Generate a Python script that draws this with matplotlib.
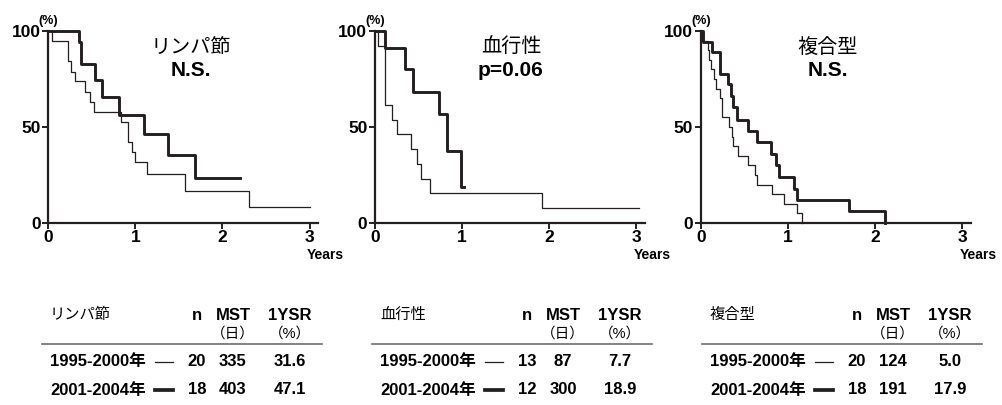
import matplotlib
matplotlib.use("Agg")
import matplotlib.pyplot as plt
from matplotlib.lines import Line2D
from matplotlib.transforms import blended_transform_factory

plt.rcParams["font.family"] = ["Liberation Sans", "Noto Sans CJK JP"]

# ---------------------------------------------------------
# Data
# ---------------------------------------------------------
groups = ["リンパ節", "血行性", "複合型"]
stat_labels = ["N.S.", "p=0.06", "N.S."]
periods = ["1995-2000年", "2001-2004年"]
n_cases = [[20, 18], [13, 12], [20, 18]]
mst_days = [[335, 403], [87, 300], [124, 191]]
ysr_1 = [["31.6", "47.1"], ["7.7", "18.9"], ["5.0", "17.9"]]
x_ticks = [0, 1, 2, 3]
y_ticks = [0, 50, 100]

# Kaplan-Meier steps (years, survival %); last point = end of follow-up
lymph_old_t = [0, 0.04, 0.23, 0.26, 0.31, 0.42, 0.48, 0.52, 0.84, 0.91, 0.96, 0.99, 1.13, 1.57, 2.30, 3.01]
lymph_old_s = [100, 95.0, 84.2, 78.9, 73.7, 68.4, 63.2, 57.9, 52.6, 42.1, 36.8, 31.6, 25.3, 16.9, 8.4, 8.4]
lymph_new_t = [0, 0.35, 0.38, 0.54, 0.62, 0.81, 1.10, 1.38, 1.69, 2.20]
lymph_new_s = [100, 94.4, 82.6, 74.3, 65.7, 56.5, 46.6, 35.3, 23.6, 23.6]

blood_old_t = [0, 0.04, 0.12, 0.20, 0.25, 0.41, 0.48, 0.53, 0.63, 1.92, 3.03]
blood_old_s = [100, 92.3, 61.5, 53.8, 46.2, 38.5, 30.8, 23.1, 15.4, 7.7, 7.7]
blood_new_t = [0, 0.115, 0.35, 0.44, 0.73, 0.83, 0.99, 1.02]
blood_new_s = [100, 91.0, 80.2, 68.2, 57.0, 37.7, 18.8, 18.8]

mixed_old_t = [0, 0.02, 0.08, 0.10, 0.12, 0.15, 0.18, 0.22, 0.24, 0.33, 0.36, 0.37, 0.43,
               0.54, 0.62, 0.65, 0.82, 0.96, 1.10, 1.16]
mixed_old_s = [100, 95, 90, 85, 80, 75, 70, 65, 55, 50, 45, 40, 35, 30, 25, 20, 15, 10, 5, 0]
mixed_new_t = [0, 0.03, 0.13, 0.22, 0.315, 0.35, 0.37, 0.42, 0.54, 0.65, 0.81, 0.87, 0.90,
               1.07, 1.10, 1.70, 2.12]
mixed_new_s = [100, 94.4, 88.9, 77.8, 72.2, 66.1, 60.6, 53.9, 47.9, 42.0, 35.9, 30.0, 24.0,
               17.9, 12.0, 6.0, 0]

curves = [
    ((lymph_old_t, lymph_old_s), (lymph_new_t, lymph_new_s)),
    ((blood_old_t, blood_old_s), (blood_new_t, blood_new_s)),
    ((mixed_old_t, mixed_old_s), (mixed_new_t, mixed_new_s)),
]

# ---------------------------------------------------------
# Layout (pixels of a 1003x405 canvas)
# ---------------------------------------------------------
W, H = 1003, 405
INK = "#231f20"
THIN, THICK = 0.9, 2.1
panel_left = [48.3, 375, 700.7]
panel_width = 270
panel_top, panel_bottom = 31, 223
title_x = [1.64, 1.56, 1.46]
table_x = [50, 380, 710]
col_n, col_mst, col_ysr = 147, 183, 240


def fx(px):
    return px / W


def fy(py):
    return 1 - py / H


fig = plt.figure(figsize=(W / 100, H / 100), dpi=100)

for i in range(3):
    ax = fig.add_axes([fx(panel_left[i]), fy(panel_bottom),
                       panel_width / W, (panel_bottom - panel_top) / H])
    (t_old, s_old), (t_new, s_new) = curves[i]
    ax.step(t_old, s_old, where="post", color=INK, lw=THIN, clip_on=False)
    ax.step(t_new, s_new, where="post", color=INK, lw=THICK, clip_on=False)

    ax.set_xlim(0, 3.1)
    ax.set_ylim(0, 100)
    ax.set_xticks(x_ticks)
    ax.set_yticks(y_ticks)
    for side in ["top", "right"]:
        ax.spines[side].set_visible(False)
    for side in ["left", "bottom"]:
        ax.spines[side].set_linewidth(1.6)
        ax.spines[side].set_color(INK)
    ax.tick_params(length=4, width=1.4, color=INK, labelsize=12.5, pad=1.5)
    ax.tick_params(axis="x", pad=1)
    for lab in ax.get_xticklabels() + ax.get_yticklabels():
        lab.set_fontweight("bold")

    ax.annotate("(%)", xy=(0, 1), xycoords="axes fraction", xytext=(0, 3),
                textcoords="offset points", ha="center", va="bottom",
                fontsize=9, fontweight="bold")
    trans = blended_transform_factory(ax.transData, ax.transAxes)
    ax.text(2.97, -0.165, "Years", transform=trans, ha="left", va="center",
            fontsize=10, fontweight="bold")

    ax.text(title_x[i], 91.5, groups[i], ha="center", va="center", fontsize=14.5)
    ax.text(title_x[i], 79.5, stat_labels[i], ha="center", va="center",
            fontsize=15, fontweight="bold")

    # summary table under each panel
    x0 = table_x[i]
    fig.text(fx(x0), fy(315), groups[i], ha="left", va="center", fontsize=11)
    for off, lab in [(col_n, "n"), (col_mst, "MST"), (col_ysr, "1YSR")]:
        fig.text(fx(x0 + off), fy(316), lab, ha="center", va="center",
                 fontsize=12, fontweight="bold")
    fig.text(fx(x0 + col_mst), fy(334), "（日）", ha="center", va="center", fontsize=10.5)
    fig.text(fx(x0 + col_ysr), fy(334), "（%）", ha="center", va="center", fontsize=10.5)
    fig.add_artist(Line2D([fx(x0 - 8), fx(x0 + 272)], [fy(344.3), fy(344.3)],
                          color="#6d6d6d", lw=1.2))

    for r, row_y in enumerate([361.5, 390]):
        fig.text(fx(x0), fy(row_y), periods[r], ha="left", va="center",
                 fontsize=12, fontweight="bold")
        fig.add_artist(Line2D([fx(x0 + 105), fx(x0 + 123)], [fy(row_y), fy(row_y)],
                              color=INK, lw=THIN if r == 0 else THICK + 0.6))
        fig.text(fx(x0 + col_n), fy(row_y), str(n_cases[i][r]), ha="center",
                 va="center", fontsize=12, fontweight="bold")
        fig.text(fx(x0 + col_mst), fy(row_y), str(mst_days[i][r]), ha="center",
                 va="center", fontsize=12, fontweight="bold")
        fig.text(fx(x0 + col_ysr), fy(row_y), ysr_1[i][r], ha="center",
                 va="center", fontsize=12, fontweight="bold")

fig.savefig("out.png", dpi=100)
